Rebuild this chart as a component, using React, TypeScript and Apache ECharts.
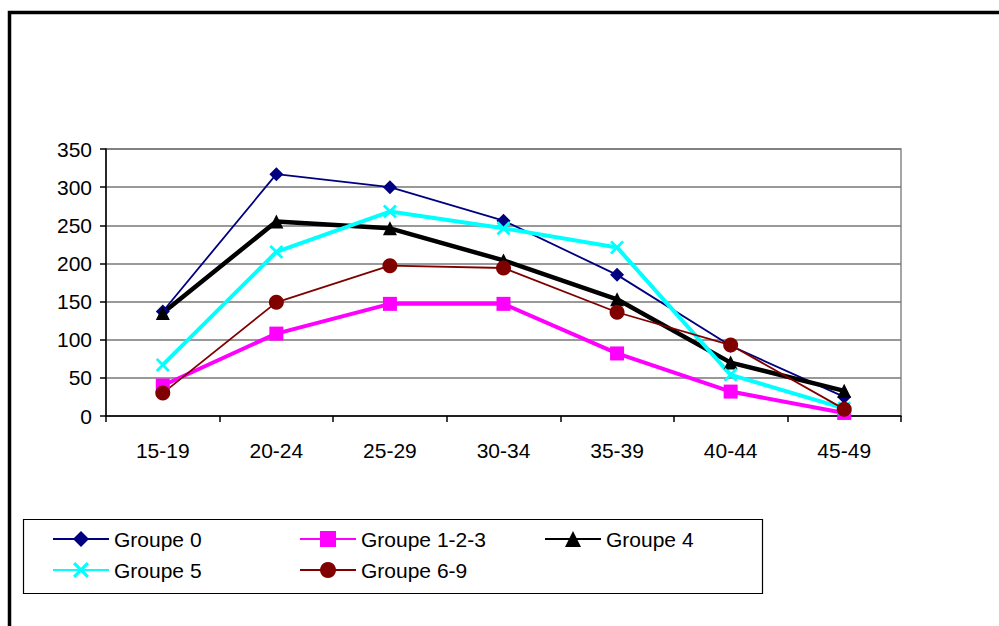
import React, { useEffect, useRef } from "react";
import * as echarts from "echarts";

const categories = ["15-19", "20-24", "25-29", "30-34", "35-39", "40-44", "45-49"];
const groupe0 = [137, 317, 300, 256, 185, 92, 25];
const groupe123 = [40, 108, 147, 147, 82, 32, 4];
const groupe4 = [135, 255, 246, 204, 153, 70, 33];
const groupe5 = [67, 215, 268, 246, 221, 54, 10];
const groupe69 = [30, 149, 197, 194, 136, 93, 9];
const yTicks = { min: 0, max: 350, interval: 50 };

const FONT = "'Liberation Sans', Arial, sans-serif";
const XSYM =
  "path://M0,1.4 L1.4,0 L5,3.6 L8.6,0 L10,1.4 L6.4,5 L10,8.6 L8.6,10 L5,6.4 L1.4,10 L0,8.6 L3.6,5 Z";

export default function App() {
  const ref = useRef<HTMLDivElement>(null);
  useEffect(() => {
    if (!ref.current) return;
    const chart = echarts.init(ref.current, undefined, { renderer: "svg" });
    const legendText = { fontFamily: FONT, fontSize: 21, color: "#000", lineHeight: 22 };
    const legendBase = {
      orient: "vertical",
      top: 523,
      itemWidth: 56,
      itemHeight: 20,
      itemGap: 9,
      textStyle: legendText,
    };
    chart.setOption({
      animation: false,
      backgroundColor: "#fff",
      textStyle: { fontFamily: FONT },
      grid: { left: 106, top: 149, right: 98, bottom: 210, show: true, borderColor: "#888", borderWidth: 1.5 },
      graphic: [
        {
          type: "rect",
          shape: { x: 9.5, y: 12.5, width: 1200, height: 800 },
          style: { fill: "none", stroke: "#000", lineWidth: 3.5 },
          z: 100,
        },
        {
          type: "rect",
          shape: { x: 23.5, y: 519.5, width: 739, height: 74 },
          style: { fill: "none", stroke: "#000", lineWidth: 1.2 },
          z: 100,
        },
      ],
      legend: [
        { ...legendBase, data: ["Groupe 0", "Groupe 5"], left: 47 },
        { ...legendBase, data: ["Groupe 1-2-3", "Groupe 6-9"], left: 294 },
        { ...legendBase, data: ["Groupe 4"], left: 539 },
      ],
      xAxis: {
        type: "category",
        data: categories,
        boundaryGap: true,
        axisLine: { lineStyle: { color: "#000", width: 1.5 } },
        axisTick: { show: true, length: 6, lineStyle: { color: "#000", width: 1.5 } },
        axisLabel: { color: "#000", fontSize: 21, fontFamily: FONT, margin: 24 },
        splitLine: { show: false },
      },
      yAxis: {
        type: "value",
        min: yTicks.min,
        max: yTicks.max,
        interval: yTicks.interval,
        axisLine: { show: true, lineStyle: { color: "#000", width: 1.5 } },
        axisTick: { show: true, length: 6, lineStyle: { color: "#000", width: 1.5 } },
        axisLabel: { color: "#000", fontSize: 21, fontFamily: FONT, margin: 14 },
        splitLine: { show: true, lineStyle: { color: "#777", width: 1.5 } },
      },
      series: [
        {
          name: "Groupe 0",
          type: "line",
          data: groupe0,
          symbol: "diamond",
          symbolSize: 14,
          lineStyle: { color: "#000080", width: 1.8 },
          itemStyle: { color: "#000080" },
        },
        {
          name: "Groupe 1-2-3",
          type: "line",
          data: groupe123,
          symbol: "rect",
          symbolSize: 14,
          lineStyle: { color: "#FF00FF", width: 4 },
          itemStyle: { color: "#FF00FF" },
        },
        {
          name: "Groupe 4",
          type: "line",
          data: groupe4,
          symbol: "triangle",
          symbolSize: 14,
          lineStyle: { color: "#000", width: 4.5 },
          itemStyle: { color: "#000" },
        },
        {
          name: "Groupe 5",
          type: "line",
          data: groupe5,
          symbol: XSYM,
          symbolSize: 14,
          lineStyle: { color: "#00FFFF", width: 4 },
          itemStyle: { color: "#00FFFF" },
        },
        {
          name: "Groupe 6-9",
          type: "line",
          data: groupe69,
          symbol: "circle",
          symbolSize: 15,
          lineStyle: { color: "#800000", width: 1.8 },
          itemStyle: { color: "#800000" },
        },
      ],
    });
    return () => chart.dispose();
  }, []);
  return (
    <div
      ref={ref}
      style={{ position: "absolute", left: 0, top: 0, width: 999, height: 626 }}
    />
  );
}
